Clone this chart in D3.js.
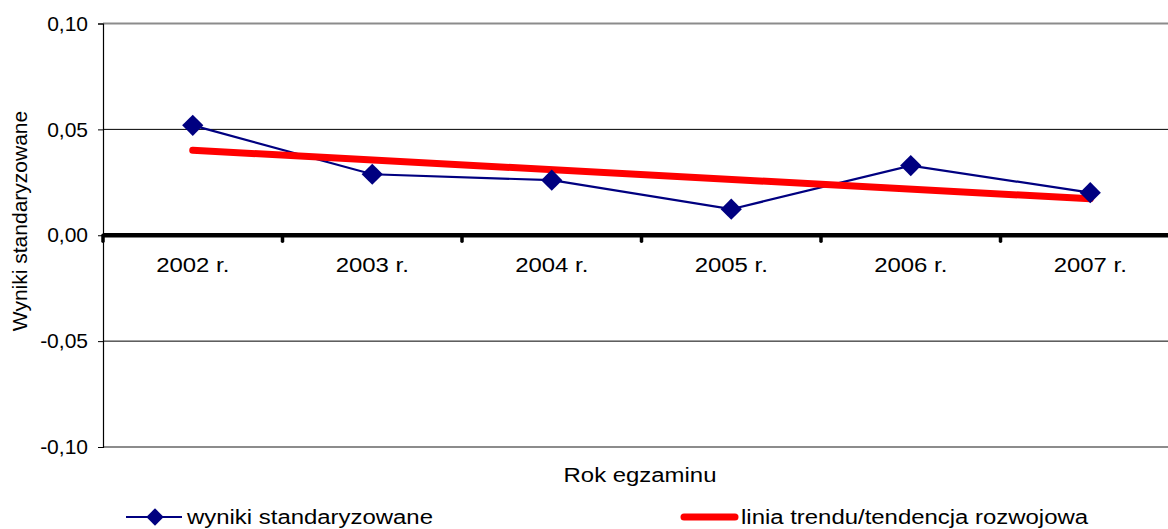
<!DOCTYPE html>
<html><head><meta charset="utf-8">
<script src="https://cdn.jsdelivr.net/npm/d3@7"></script>
<style>body{margin:0;background:#fff}svg{display:block}text{font-family:"Liberation Sans",Arial,sans-serif;fill:#000}</style>
</head><body>
<svg id="c" width="1168" height="529"></svg>
<script>
const categories = ["2002 r.","2003 r.","2004 r.","2005 r.","2006 r.","2007 r."];
const values = [0.0519,0.0288,0.026,0.0123,0.0329,0.0201];
const yTicks = [-0.10,-0.05,0,0.05,0.10];
const seriesName = "wyniki standaryzowane";
const trendName = "linia trendu/tendencja rozwojowa";
const xTitle = "Rok egzaminu";
const yTitle = "Wyniki standaryzowane";

// linear trend (least squares) from the series
const n = values.length, mx = (n-1)/2, my = d3.mean(values);
const slope = d3.sum(values,(v,i)=>(i-mx)*(v-my))/d3.sum(values,(v,i)=>(i-mx)*(i-mx));
const trend = values.map((v,i)=>my+slope*(i-mx));

const SX = 1.14; // horizontal stretch of the reference's text
const svg = d3.select("#c");
const L=103, R=1180, T=23.5, B=447;
const x = d3.scaleBand().domain(categories).range([L,R]);
const y = d3.scaleLinear().domain([-0.1,0.1]).range([B,T]);
const cx = c => x(c)+x.bandwidth()/2;
const fmt = v => d3.format(".2f")(v).replace(".",",").replace("−","-");

// gridlines
svg.append("g").selectAll("line").data(yTicks.filter(t=>Math.abs(t)===0.05)).join("line")
  .attr("x1",L).attr("x2",R).attr("y1",d=>y(d)).attr("y2",d=>y(d)).attr("stroke","#000").attr("stroke-width",1);
// plot border top/bottom grey
svg.append("g").selectAll("line").data([0.1,-0.1]).join("line")
  .attr("x1",L).attr("x2",R).attr("y1",d=>y(d)).attr("y2",d=>y(d)).attr("stroke","#8c8c8c").attr("stroke-width",2);

// y axis
const yAxis = d3.axisLeft(y).tickValues(yTicks).tickSize(5).tickPadding(10).tickFormat(fmt);
const gy = svg.append("g").attr("transform",`translate(${L},0)`).call(yAxis);
gy.select(".domain").attr("stroke","#000").attr("stroke-width",1.2);
gy.selectAll(".tick line").attr("stroke","#000");
gy.selectAll("text").style("font-size","21px").attr("font-family","Liberation Sans, Arial, sans-serif").attr("fill","#000");

// x axis at zero
const xAxis = d3.axisBottom(x).tickSize(0).tickPadding(0);
const gx = svg.append("g").attr("transform",`translate(0,${y(0)})`).call(xAxis);
gx.select(".domain").remove();
gx.selectAll("text").style("font-size","21px").attr("font-family","Liberation Sans, Arial, sans-serif").attr("fill","#000")
  .attr("dy",null).attr("y",0).attr("transform",`translate(0,37) scale(${SX},1)`);
svg.append("line").attr("x1",L).attr("x2",R).attr("y1",y(0)).attr("y2",y(0)).attr("stroke","#000").attr("stroke-width",4.5);
const bounds = categories.map(c=>x(c)).concat([x(categories[n-1])+x.bandwidth()]);
svg.append("g").selectAll("line").data(bounds).join("line")
  .attr("x1",d=>d).attr("x2",d=>d).attr("y1",y(0)).attr("y2",y(0)+6)
  .attr("stroke","#000").attr("stroke-width",3.5).attr("stroke-linecap","round");

// series line
const line = d3.line().x((d,i)=>cx(categories[i])).y(d=>y(d));
svg.append("path").datum(values).attr("d",line).attr("fill","none").attr("stroke","#000080").attr("stroke-width",2.2);
// trend line (drawn from first to last)
svg.append("path").datum([trend[0],trend[n-1]]).attr("d",d3.line().x((d,i)=>cx(categories[i*(n-1)])).y(d=>y(d)))
  .attr("fill","none").attr("stroke","#ff0000").attr("stroke-width",7).attr("stroke-linecap","round");
// markers
const diamond = d3.symbol().type(d3.symbolSquare).size(225);
svg.append("g").selectAll("path").data(values).join("path")
  .attr("d",diamond).attr("transform",(d,i)=>`translate(${cx(categories[i])},${y(d)}) rotate(45)`)
  .attr("fill","#000080");

// titles
svg.append("text").attr("transform",`translate(640,482) scale(${SX},1)`).attr("text-anchor","middle").style("font-size","21px").text(xTitle);
svg.append("text").attr("transform","translate(27,221) rotate(-90)").attr("text-anchor","middle").style("font-size","21px").text(yTitle);

// legend
const lg = svg.append("g");
lg.append("line").attr("x1",126).attr("x2",182).attr("y1",517).attr("y2",517).attr("stroke","#000080").attr("stroke-width",2.2);
lg.append("path").attr("d",d3.symbol().type(d3.symbolSquare).size(150)).attr("transform","translate(155,517) rotate(45)").attr("fill","#000080");
lg.append("text").attr("transform",`translate(187,524) scale(${SX},1)`).style("font-size","21px").text(seriesName);
lg.append("line").attr("x1",684).attr("x2",735).attr("y1",517).attr("y2",517).attr("stroke","#ff0000").attr("stroke-width",7).attr("stroke-linecap","round");
lg.append("text").attr("transform",`translate(741,524) scale(${SX},1)`).style("font-size","21px").text(trendName);
</script>
</body></html>
